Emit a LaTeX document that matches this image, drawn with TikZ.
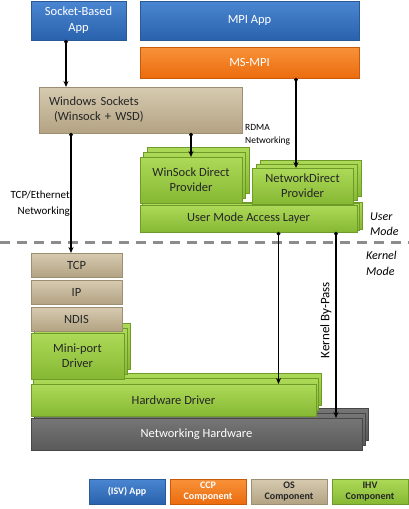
\documentclass[tikz,border=0pt]{standalone}
\usepackage{fontspec}
\setmainfont{Carlito}
\usetikzlibrary{arrows.meta,positioning,calc,shadows}

\definecolor{isvtop}{HTML}{4A86D2}
\definecolor{isvbot}{HTML}{2A62AC}
\definecolor{isvline}{HTML}{2A5A96}
\definecolor{ccptop}{HTML}{F8923A}
\definecolor{ccpbot}{HTML}{EC6C0E}
\definecolor{ccpline}{HTML}{C85A0A}
\definecolor{ostop}{HTML}{D6CAB0}
\definecolor{osbot}{HTML}{B3A383}
\definecolor{osline}{HTML}{9C8E70}
\definecolor{ihvtop}{HTML}{ADDA58}
\definecolor{ihvbot}{HTML}{86B834}
\definecolor{ihvline}{HTML}{6E9A28}
\definecolor{hwtop}{HTML}{767676}
\definecolor{hwbot}{HTML}{5A5A5A}
\definecolor{hwline}{HTML}{474747}
\definecolor{sepgray}{HTML}{8C8C8C}

\begin{document}
\begin{tikzpicture}[
      x=1pt,y=-1pt,
      box/.style = {rectangle,anchor=north west,inner sep=1pt,outer sep=0pt,align=center,font=\fontsize{12.5}{15}\selectfont},
      isv/.style = {box,top color=isvtop,bottom color=isvbot,draw=isvline,text=white},
      ccp/.style = {box,top color=ccptop,bottom color=ccpbot,draw=ccpline,text=white},
      os/.style = {box,top color=ostop,bottom color=osbot,draw=osline,text=black!85},
      ihv/.style = {box,top color=ihvtop,bottom color=ihvbot,draw=ihvline,text=black!85},
      hw/.style = {box,top color=hwtop,bottom color=hwbot,draw=hwline,text=white},
      ihvstack/.style 2 args = {ihv,
        copy shadow={shadow xshift=2*#1,shadow yshift=2*#2,top color=ihvtop,bottom color=ihvbot,draw=ihvline},
        copy shadow={shadow xshift=#1,shadow yshift=#2,top color=ihvtop,bottom color=ihvbot,draw=ihvline}},
      hwstack/.style 2 args = {hw,
        copy shadow={shadow xshift=2*#1,shadow yshift=2*#2,top color=hwtop,bottom color=hwbot,draw=hwline},
        copy shadow={shadow xshift=#1,shadow yshift=#2,top color=hwtop,bottom color=hwbot,draw=hwline}},
      legend/.style = {inner sep=0pt,minimum width=76,minimum height=25,font=\fontsize{10}{11.5}\selectfont\bfseries},
      lbl/.style = {inner sep=0pt,font=\fontsize{11}{16.5}\selectfont},
      mode/.style = {inner sep=0pt,anchor=west,align=left,font=\fontsize{12}{15.5}\selectfont\itshape},
      arrow/.style = {{Circle[length=3.5pt]}-{Stealth[length=6pt,width=5pt]},line width=1.3pt}
    ]
      \useasboundingbox (0,0) rectangle (409,509);
      % user mode
      \node (sba)[isv,minimum width=95,minimum height=39,font=\fontsize{12.5}{16}\selectfont] at (31,1) {Socket-Based\\App};
      \node (mpiapp)[isv,minimum width=219,minimum height=39] at (140,1) {MPI App};
      \node (msmpi)[ccp,minimum width=219,minimum height=31] at (140,47) {MS-MPI};
      \node (winsock)[os,minimum width=203,minimum height=46,align=left,text width=183,inner xsep=10pt] at (39,87)
        {Windows Sockets\\\hspace*{5pt}(Winsock + WSD)};
      \node (umal)[ihvstack={2.5pt}{1.5pt},minimum width=217,minimum height=27] at (140,205) {User Mode Access Layer};
      \node (wsdp)[ihvstack={3.5pt}{5pt},minimum width=102,minimum height=46] at (140,157) {WinSock Direct\\Provider};
      \node (ndp)[ihvstack={4pt}{4pt},minimum width=101,minimum height=36] at (252,168) {NetworkDirect\\Provider};
      % kernel mode
      \node (nethw)[hwstack={3pt}{5pt},minimum width=331,minimum height=32] at (31,418) {Networking Hardware};
      \node (hwdrv)[ihvstack={2.5pt}{5.5pt},minimum width=285,minimum height=32] at (31,384) {Hardware Driver};
      \node (miniport)[ihvstack={3pt}{5pt},minimum width=93,minimum height=46] at (31,333) {Mini-port\\Driver};
      \node (tcp)[os,minimum width=91,minimum height=24] at (31,253) {TCP};
      \node (ip)[os,minimum width=91,minimum height=24,below=3pt of tcp] {IP};
      \node (ndis)[os,minimum width=91,minimum height=24,below=3pt of ip] {NDIS};
      % separator
      \draw [sepgray,line width=3pt,dash pattern=on 10pt off 7pt] (0,242) -- (409,242);
      % labels
      \node (rdma)[lbl,anchor=west,align=left,font=\fontsize{9.5}{13}\selectfont] at (245,134.5) {RDMA\\Networking};
      \node (tcpnet)[lbl,anchor=east,align=right] at (70,203.5) {TCP/Ethernet\\Networking};
      \node (usermode)[mode] at (370,224) {User\\Mode};
      \node (kernelmode)[mode] at (366,263.5) {Kernel\\Mode};
      \node (bypass)[lbl,rotate=90,font=\fontsize{13}{15}\selectfont] at (326,320) {Kernel By-Pass};
      % arrows
      \draw [arrow] ([xshift=-12.5pt]sba.south) -- ([xshift=-12.5pt]sba.south |- winsock.north);
      \draw [arrow] ([xshift=-5.5pt]tcp.north |- winsock.south) -- ([xshift=-5.5pt]tcp.north);
      \draw [arrow] (wsdp.north |- winsock.south) -- (wsdp.north);
      \draw [arrow] ([xshift=-6.5pt]ndp.north |- msmpi.south) -- ([xshift=-6.5pt]ndp.north);
      \draw [arrow] ([xshift=30pt]umal.south) -- ([xshift=30pt]umal.south |- hwdrv.north);
      \draw [arrow] ([xshift=87.5pt]umal.south) -- ([xshift=87.5pt]umal.south |- nethw.north);
      % legend
      \node (lgisv)[isv,legend] at (89,479) {(ISV) App};
      \node (lgccp)[ccp,legend,right=5pt of lgisv] {CCP\\Component};
      \node (lgos)[os,legend,right=5pt of lgccp] {OS\\Component};
      \node (lgihv)[ihv,legend,right=5pt of lgos] {IHV\\Component};
    \end{tikzpicture}
\end{document}
